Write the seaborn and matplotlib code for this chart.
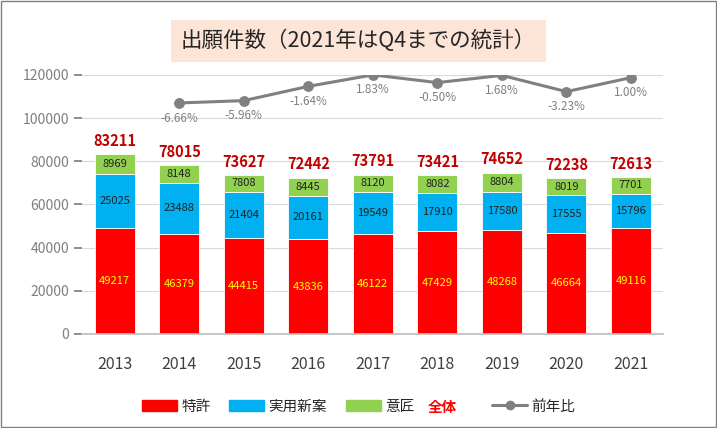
import matplotlib
matplotlib.use('Agg')
import matplotlib.pyplot as plt
import seaborn as sns
import pandas as pd
import numpy as np
from matplotlib.patches import Patch
from matplotlib.lines import Line2D

years = ['2013', '2014', '2015', '2016', '2017', '2018', '2019', '2020', '2021']
tokkyo = [49217, 46379, 44415, 43836, 46122, 47429, 48268, 46664, 49116]
jitsuyo = [25025, 23488, 21404, 20161, 19549, 17910, 17580, 17555, 15796]
isho = [8969, 8148, 7808, 8445, 8120, 8082, 8804, 8019, 7701]
total = [83211, 78015, 73627, 72442, 73791, 73421, 74652, 72238, 72613]
yoy = [None, -6.66, -5.96, -1.64, 1.83, -0.50, 1.68, -3.23, 1.00]

sns.set_theme(style='white')
plt.rcParams['font.family'] = ['Noto Sans CJK JP', 'DejaVu Sans']

fig = plt.figure(figsize=(7.17, 4.28), dpi=100)
ax = fig.add_axes([0.115, 0.22, 0.81, 0.605])

df = pd.DataFrame({'year': years, 't': tokkyo, 'j': jitsuyo, 'i': isho})
x = np.arange(len(years))
w = 0.62
ax.bar(x, df['t'], w, color='#FF0000', edgecolor='white', linewidth=0.6)
ax.bar(x, df['j'], w, bottom=df['t'], color='#00B0F0', edgecolor='white', linewidth=0.6)
ax.bar(x, df['i'], w, bottom=df['t'] + df['j'], color='#92D050', edgecolor='white', linewidth=0.6)

for k in range(len(years)):
    ax.text(x[k], tokkyo[k] / 2, str(tokkyo[k]), ha='center', va='center', color='#FFFF00', fontsize=8)
    ax.text(x[k], tokkyo[k] + jitsuyo[k] / 2, str(jitsuyo[k]), ha='center', va='center', color='#222222', fontsize=8)
    ax.text(x[k], tokkyo[k] + jitsuyo[k] + isho[k] / 2, str(isho[k]), ha='center', va='center', color='#222222', fontsize=8)
    ax.text(x[k], total[k] + 2500, str(total[k]), ha='center', va='bottom', color='#C00000', fontsize=10.5, fontweight='bold')

ax.set_ylim(0, 120000)
ax.set_xlim(-0.5, len(years) - 0.5)
ax.set_yticks(range(0, 120001, 20000))
ax.set_xticks(x)
ax.set_xticklabels(years, fontsize=11.5, color='#404040')
ax.tick_params(axis='x', pad=10)
ax.tick_params(axis='y', labelsize=10, colors='#7F7F7F')
ax.grid(axis='y', color='#D9D9D9', linewidth=0.8)
ax.set_axisbelow(True)
for s in ['top', 'right', 'left']:
    ax.spines[s].set_visible(False)
ax.spines['bottom'].set_color('#BFBFBF')

# hidden secondary scale for growth rate
ax2 = ax.twinx()
slope = 1531.0
lo = 1.83 - 120000 / slope
ax2.set_ylim(lo, 1.83)
ax2.set_axis_off()
xs = [x[k] for k in range(len(years)) if yoy[k] is not None]
ys = [v for v in yoy if v is not None]
sns.lineplot(x=xs, y=ys, ax=ax2, color='#808080', marker='o', markersize=7,
             markeredgecolor='#808080', linewidth=2.2)
for xx, yy in zip(xs, ys):
    ax2.text(xx, yy - 2.6, f'{yy:.2f}%', ha='center', va='top', color='#808080', fontsize=8.5)

fig.text(0.5, 0.905, '出願件数（2021年はQ4までの統計）', ha='center', va='center', fontsize=15.5,
         bbox=dict(boxstyle='square,pad=0.45', facecolor='#FCE4D6', edgecolor='none'))

handles = [Patch(color='#FF0000', label='特許'), Patch(color='#00B0F0', label='実用新案'),
           Patch(color='#92D050', label='意匠'), Patch(color='none', label=''),
           Line2D([0], [0], color='#808080', marker='o', linewidth=2.2, label='前年比')]
fig.legend(handles=handles, loc='center', bbox_to_anchor=(0.5, 0.05), ncol=5, frameon=False,
           fontsize=10.5, handlelength=2.4, columnspacing=1.3, handletextpad=0.3)
fig.text(0.617, 0.05, '全体', color='#FF0000', fontsize=10.5, fontweight='bold', ha='center', va='center')

fig.patches.append(plt.Rectangle((0.002, 0.002), 0.996, 0.996, transform=fig.transFigure,
                                 fill=False, edgecolor='#7F7F7F', linewidth=1))
fig.savefig('out.png')
